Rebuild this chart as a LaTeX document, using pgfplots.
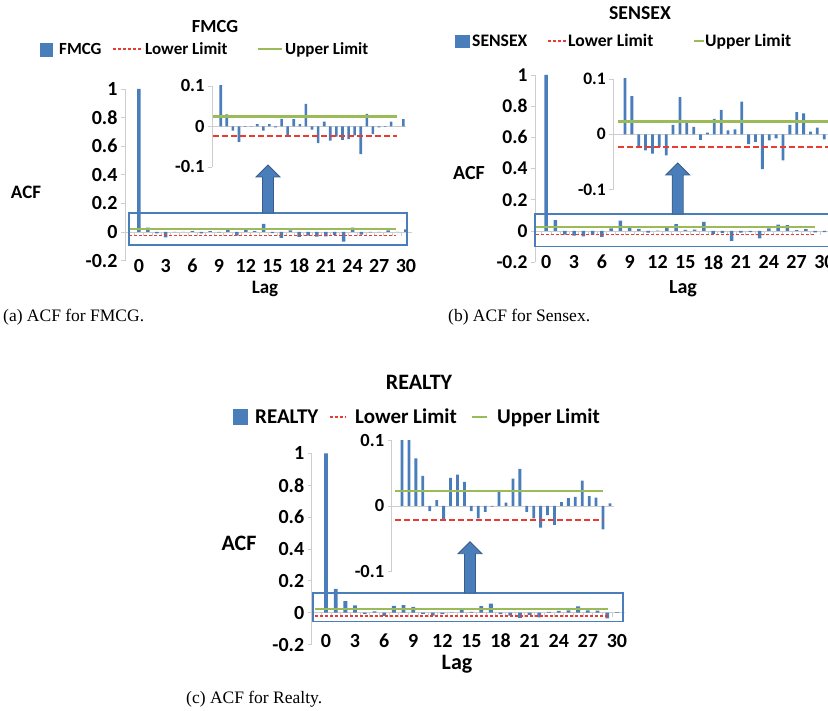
\documentclass[border=0pt]{standalone}
\usepackage{pgfplots}
\pgfplotsset{compat=1.18}
\usepackage{pgfplotstable}
\usepackage{fontspec}
\setmainfont{Carlito}
\newfontfamily\capfont{Liberation Serif}
\definecolor{barblue}{RGB}{74,126,187}
\definecolor{limgreen}{RGB}{155,187,89}
\definecolor{limred}{RGB}{232,60,50}
\definecolor{axgray}{RGB}{205,205,205}
\definecolor{arrowedge}{RGB}{56,93,138}
\newcommand{\F}[1]{\fontsize{#1}{#1}\selectfont\bfseries}

\pgfplotstableread{
lag acf
0 1.0
1 0.030
2 -0.010
3 -0.038
4 -0.001
5 0.001
6 0.006
7 -0.010
8 0.006
9 -0.002
10 0.019
11 -0.025
12 0.018
13 0.006
14 0.056
15 -0.008
16 -0.041
17 0.012
18 -0.035
19 -0.025
20 -0.033
21 -0.031
22 -0.022
23 -0.068
24 0.031
25 -0.019
26 -0.002
27 -0.001
28 0.012
29 0.000
30 0.018
}\fmcg

\pgfplotstableread{
lag acf
0 1.0
1 0.069
2 -0.023
3 -0.029
4 -0.035
5 -0.023
6 -0.038
7 0.017
8 0.067
9 0.020
10 0.0135
11 -0.010
12 0.003
13 0.028
14 0.044
15 0.007
16 0.009
17 0.059
18 -0.018
19 -0.0135
20 -0.063
21 -0.011
22 -0.0074
23 -0.047
24 0.017
25 0.040
26 0.038
27 0.005
28 0.012
29 -0.009
30 -0.008
}\sensex

\pgfplotstableread{
lag acf
0 1.0
1 0.150
2 0.073
3 0.046
4 -0.008
5 0.009
6 -0.020
7 0.043
8 0.048
9 0.037
10 -0.008
11 -0.019
12 -0.009
13 -0.001
14 0.023
15 0.005
16 0.042
17 0.057
18 -0.009
19 -0.019
20 -0.033
21 -0.014
22 -0.029
23 0.006
24 0.012
25 0.014
26 0.039
27 0.015
28 0.013
29 -0.036
30 0.004
}\realty

\pgfplotsset{
  acfbase/.style={
    scale only axis, anchor=south west,
    axis y line*=left, axis x line*=bottom,
    x axis line style={draw=none},
    y axis line style={axgray, line width=0.8pt},
    ytick style={axgray, line width=0.8pt},
    xtick style={draw=none},
    tick align=outside, major tick length=4pt,
    /pgf/number format/assume math mode=true,
  },
  mainacf/.style={
    acfbase, ymin=-0.2, ymax=1,
    ytick={-0.2,0,0.2,0.4,0.6,0.8,1},
    yticklabels={-0.2,0,0.2,0.4,0.6,0.8,1},
    xtick={0,3,...,30},
    xticklabels={0,3,6,9,12,15,18,21,24,27,30},
  },
  insetacf/.style={
    acfbase, ymin=-0.1, ymax=0.1,
    ytick={-0.1,0,0.1},
    yticklabels={-0.1,0,0.1},
    xtick=\empty,
  },
}

\newcommand{\blockarrow}[3]{%
  \filldraw[fill=barblue, draw=arrowedge, line width=0.8pt]
    (#1pt-5.5pt,#2pt) -- (#1pt-5.5pt,#3pt-12pt) -- (#1pt-12pt,#3pt-12pt) --
    (#1pt,#3pt) -- (#1pt+12pt,#3pt-12pt) -- (#1pt+5.5pt,#3pt-12pt) --
    (#1pt+5.5pt,#2pt) -- cycle;}
\newcommand{\catticks}{%
  \pgfplotsinvokeforeach{-0.5,0.5,...,29.5}{%
    \draw[axgray, line width=0.6pt] (axis cs:##1,0) -- ++(0pt,-4pt);}}

\begin{document}
\begin{tikzpicture}
\useasboundingbox (0,0) rectangle (828pt,711pt);
\clip (0,0) rectangle (828pt,711pt);

% ================= Panel (a) FMCG =================
\node[anchor=base] at (215pt,678pt) {\F{18.5}FMCG};
\fill[barblue] (40pt,654pt) rectangle (53pt,668pt);
\node[anchor=base west, inner sep=0] at (59pt,656.5pt) {\F{17}FMCG};
\draw[limred, line width=1.8pt, dash pattern=on 3pt off 2pt] (113pt,662pt) -- (143pt,662pt);
\node[anchor=base west, inner sep=0] at (145pt,656.5pt) {\F{17}Lower Limit};
\draw[limgreen, line width=2pt] (258pt,662pt) -- (282pt,662pt);
\node[anchor=base west, inner sep=0] at (285pt,656.5pt) {\F{17}Upper Limit};
\node[anchor=base] at (26pt,512.9pt) {\F{19}ACF};
\node[anchor=base] at (265pt,417.5pt) {\F{19}Lag};

\begin{axis}[mainacf, at={(125pt,450.4pt)}, width=286.9pt, height=171.6pt,
  xmin=-1.57, xmax=30.67,
  yticklabel style={font=\F{20}},
  xticklabel style={font=\F{20}, anchor=center, yshift=-1pt}]
  \draw[axgray, line width=0.8pt] (axis cs:-1.57,0) -- (axis cs:30.67,0);
  \catticks
  \addplot[ybar, bar width=3.5pt, fill=barblue, draw=none] table[x=lag,y=acf]{\fmcg};
  \addplot[limgreen, line width=2pt] coordinates {(-1.1,0.024) (28.9,0.024)};
  \addplot[limred, line width=1.8pt, dash pattern=on 3pt off 2pt] coordinates {(-1.1,-0.024) (28.9,-0.024)};
\end{axis}

\begin{axis}[insetacf, at={(212pt,544pt)}, width=194.4pt, height=81pt,
  xmin=-1.43, xmax=30.5,
  yticklabel style={font=\F{18.5}}]
  \draw[axgray, line width=0.8pt] (axis cs:-1.43,0) -- (axis cs:30.5,0);
  \addplot[ybar, bar width=2.6pt, fill=barblue, draw=none] table[x=lag,y=acf]{\fmcg};
  \addplot[limgreen, line width=2.6pt] coordinates {(-1.2,0.024) (28.9,0.024)};
  \addplot[limred, line width=2.2pt, dash pattern=on 6pt off 3pt] coordinates {(-1.2,-0.024) (28.9,-0.024)};
\end{axis}
\draw[barblue, line width=1.3pt] (129pt,466pt) rectangle (407pt,498pt);
\blockarrow{268}{498}{546}
\node[anchor=base west, inner sep=0] at (3pt,389.3pt) {\capfont\fontsize{17.5}{17.5}\selectfont (a) ACF for FMCG.};

% ================= Panel (b) SENSEX =================
\node[anchor=base] at (640pt,691.7pt) {\F{19.7}SENSEX};
\fill[barblue] (455pt,663pt) rectangle (470pt,676pt);
\node[anchor=base west, inner sep=0] at (472pt,664.3pt) {\F{17.6}SENSEX};
\draw[limred, line width=1.8pt, dash pattern=on 3pt off 2pt] (548pt,670pt) -- (567pt,670pt);
\node[anchor=base west, inner sep=0] at (568pt,664.3pt) {\F{17.6}Lower Limit};
\draw[limgreen, line width=2pt] (694pt,670pt) -- (704pt,670pt);
\node[anchor=base west, inner sep=0] at (705pt,664.3pt) {\F{17.6}Upper Limit};
\node[anchor=base] at (469pt,531.6pt) {\F{20}ACF};
\node[anchor=base] at (683pt,417.5pt) {\F{20}Lag};

\begin{axis}[mainacf, at={(535pt,448.8pt)}, width=295pt, height=187.2pt,
  xmin=-1.21, xmax=30.6,
  yticklabel style={font=\F{19.5}},
  xticklabel style={font=\F{20}, anchor=center, yshift=4pt}]
  \draw[axgray, line width=0.8pt] (axis cs:-1.21,0) -- (axis cs:30.6,0);
  \catticks
  \addplot[ybar, bar width=3.5pt, fill=barblue, draw=none] table[x=lag,y=acf]{\sensex};
  \addplot[limgreen, line width=2pt] coordinates {(-1.05,0.023) (29,0.023)};
  \addplot[limred, line width=1.8pt, dash pattern=on 3pt off 2pt] coordinates {(-1.05,-0.023) (29,-0.023)};
\end{axis}

\begin{axis}[insetacf, at={(613.3pt,521.4pt)}, width=221.9pt, height=110.6pt,
  xmin=-1.7, xmax=30.6,
  yticklabel style={font=\F{17.5}}]
  \draw[axgray, line width=0.8pt] (axis cs:-1.7,0) -- (axis cs:30.6,0);
  \addplot[ybar, bar width=2.8pt, fill=barblue, draw=none] table[x=lag,y=acf]{\sensex};
  \addplot[limgreen, line width=2.6pt] coordinates {(-1.0,0.023) (30.6,0.023)};
  \addplot[limred, line width=2.2pt, dash pattern=on 6pt off 3pt] coordinates {(-1.0,-0.023) (30.6,-0.023)};
\end{axis}
\draw[barblue, line width=1.3pt] (535pt,464.3pt) rectangle (845pt,497pt);
\blockarrow{677.7}{497}{548}
\node[anchor=base west, inner sep=0] at (448pt,389.3pt) {\capfont\fontsize{17.5}{17.5}\selectfont (b) ACF for Sensex.};

% ================= Panel (c) REALTY =================
\node[anchor=base] at (419pt,321.9pt) {\F{22}REALTY};
\fill[barblue] (233pt,286pt) rectangle (248pt,302pt);
\node[anchor=base west, inner sep=0] at (255pt,287.2pt) {\F{21}REALTY};
\draw[limred, line width=1.8pt, dash pattern=on 3pt off 2pt] (330pt,294pt) -- (346pt,294pt);
\node[anchor=base west, inner sep=0] at (355pt,287.2pt) {\F{21}Lower Limit};
\draw[limgreen, line width=2pt] (472pt,294pt) -- (487pt,294pt);
\node[anchor=base west, inner sep=0] at (497pt,287.2pt) {\F{21}Upper Limit};
\node[anchor=base] at (239pt,160.9pt) {\F{22}ACF};
\node[anchor=base] at (457pt,41pt) {\F{22}Lag};

\begin{axis}[mainacf, at={(311.7pt,66.4pt)}, width=313pt, height=191.3pt,
  xmin=-1.47, xmax=30.8,
  yticklabel style={font=\F{20}},
  xticklabel style={font=\F{20}, anchor=center, yshift=8pt}]
  \draw[axgray, line width=0.8pt] (axis cs:-1.47,0) -- (axis cs:30.8,0);
  \catticks
  \addplot[ybar, bar width=3.8pt, fill=barblue, draw=none] table[x=lag,y=acf]{\realty};
  \addplot[limgreen, line width=2pt] coordinates {(-1.13,0.023) (29.1,0.023)};
  \addplot[limred, line width=1.8pt, dash pattern=on 3pt off 2pt] coordinates {(-1.13,-0.022) (29.1,-0.022)};
\end{axis}

\begin{axis}[insetacf, at={(391.7pt,139.7pt)}, width=222.4pt, height=130.6pt,
  xmin=-1.49, xmax=30.6,
  yticklabel style={font=\F{18.5}}]
  \draw[axgray, line width=0.8pt] (axis cs:-1.49,0) -- (axis cs:30.6,0);
  \addplot[ybar, bar width=2.8pt, fill=barblue, draw=none] table[x=lag,y=acf]{\realty};
  \addplot[limgreen, line width=2.6pt] coordinates {(-1.0,0.023) (29.0,0.023)};
  \addplot[limred, line width=2.2pt, dash pattern=on 6pt off 3pt] coordinates {(-1.0,-0.022) (29.0,-0.022)};
\end{axis}
\draw[barblue, line width=1.3pt] (313pt,89.3pt) rectangle (623pt,118pt);
\blockarrow{470}{118}{169.3}
\node[anchor=base west, inner sep=0] at (186pt,7pt) {\capfont\fontsize{17.5}{17.5}\selectfont (c) ACF for Realty.};
\end{tikzpicture}
\end{document}
